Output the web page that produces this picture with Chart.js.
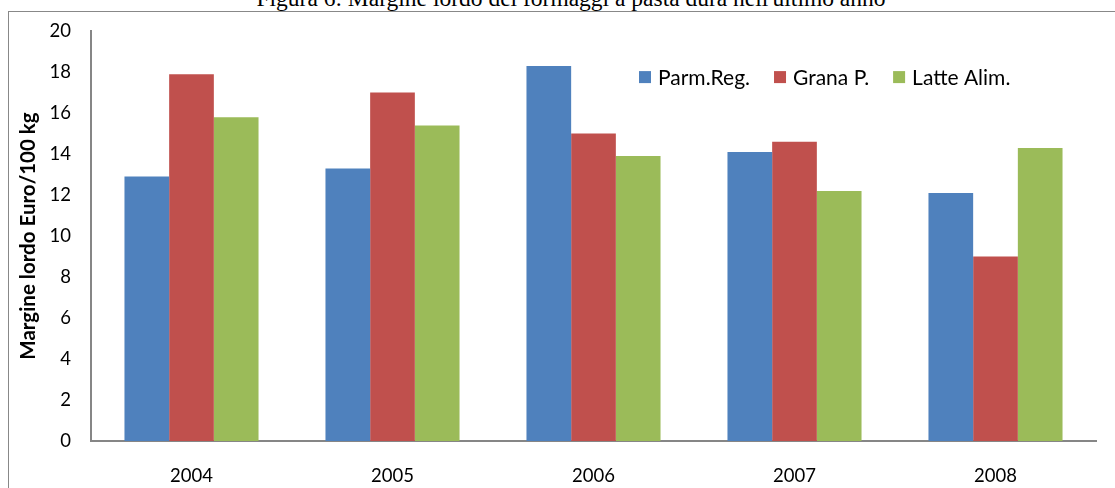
<!DOCTYPE html>
<html>
<head>
<meta charset="utf-8">
<script src="https://cdn.jsdelivr.net/npm/chart.js@4"></script>
<style>
    html, body { margin: 0; padding: 0; background: #fff; overflow: hidden; }
    #page { position: relative; width: 1115px; height: 488px; }
    #frame { position: absolute; left: 8px; top: 11px; width: 1200px; height: 600px; border: 1px solid #888; box-sizing: border-box; }
    #title { position: absolute; left: 0; width: 1142px; top: -14.5px; line-height: 24px; text-align: center;
             font-family: "Liberation Serif", "Times New Roman", serif; font-size: 23.5px; color: #000; white-space: nowrap; }
    #wrap { position: absolute; left: 0; top: 0; width: 1115px; height: 488px; }
</style>
</head>
<body>
<div id="page">
    <div id="title">Figura 6: Margine lordo dei formaggi a pasta dura nell'ultimo anno</div>
    <div id="frame"></div>
    <div id="wrap"><canvas id="marginChart"></canvas></div>
</div>
<script>
// values (Euro / 100 kg)
const years = ['2004', '2005', '2006', '2007', '2008'];
const parmReg = [12.9, 13.3, 18.3, 14.1, 12.1];
const granaP = [17.9, 17.0, 15.0, 14.6, 9.0];
const latteAlim = [15.8, 15.4, 13.9, 12.2, 14.3];
const seriesNames = ['Parm.Reg.', 'Grana P.', 'Latte Alim.'];
const seriesColors = ['#4F81BD', '#C0504D', '#9BBB59'];

const fontFamily = 'Lato, "Open Sans", sans-serif';
const axisColor = '#868686';

// legend drawn inside the plot, like the Excel original
const innerLegend = {
    id: 'innerLegend',
    afterDraw(chart) {
        const { ctx, chartArea } = chart;
        let x = chartArea.left + 548;
        const y = chartArea.top + 46;
        ctx.save();
        ctx.font = '21px ' + fontFamily;
        ctx.textBaseline = 'middle';
        chart.data.datasets.forEach((ds) => {
            ctx.fillStyle = ds.backgroundColor;
            ctx.fillRect(x, y - 6, 12, 12);
            ctx.fillStyle = '#000';
            ctx.fillText(ds.label, x + 19, y + 1);
            x += 19 + ctx.measureText(ds.label).width + 24;
        });
        ctx.restore();
    }
};

const ctx = document.getElementById('marginChart');
new Chart(ctx, {
    type: 'bar',
    data: {
        labels: years,
        datasets: [parmReg, granaP, latteAlim].map((vals, i) => ({
            label: seriesNames[i],
            data: vals,
            backgroundColor: seriesColors[i],
            borderWidth: 0,
            categoryPercentage: 0.667,
            barPercentage: 1
        }))
    },
    options: {
        responsive: true,
        maintainAspectRatio: false,
        animation: false,
        layout: { padding: { left: 0, right: 19, top: 31, bottom: 0 } },
        plugins: {
            legend: { display: false },
            tooltip: { enabled: false }
        },
        scales: {
            x: {
                grid: { display: false, drawTicks: false },
                border: { display: true, color: axisColor, width: 2 },
                ticks: { color: '#000', padding: 24, font: { family: fontFamily, size: 18.5 } },
                afterFit(scale) { scale.height = 47; }
            },
            y: {
                min: 0,
                max: 20,
                grid: { display: false, drawTicks: false },
                border: { display: true, color: axisColor, width: 2 },
                ticks: { stepSize: 2, color: '#000', padding: 20, font: { family: fontFamily, size: 18.5 } },
                title: {
                    display: true,
                    text: 'Margine lordo Euro/100 kg',
                    color: '#000',
                    padding: { top: 16, bottom: 0 },
                    font: { family: fontFamily, size: 20.5, weight: 'bold' }
                },
                afterFit(scale) { scale.width = 91; }
            }
        }
    },
    plugins: [innerLegend]
});
</script>
</body>
</html>
